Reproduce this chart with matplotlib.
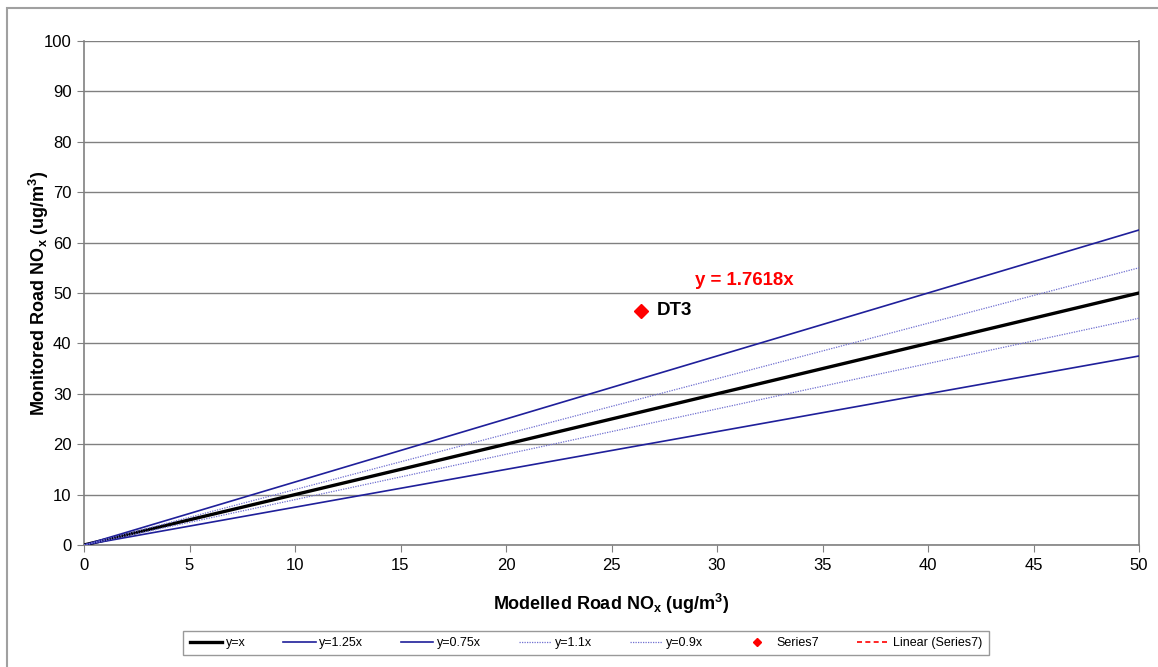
import matplotlib.pyplot as plt
import numpy as np
from matplotlib.lines import Line2D
from matplotlib.patches import Rectangle

plt.rcParams["font.family"] = ["Liberation Sans", "DejaVu Sans"]

# reference lines y = k * x over the modelled range
x_range = [0, 50]
ref_slopes = [1.0, 1.25, 0.75, 1.1, 0.9]
ref_labels = ["y=x", "y=1.25x", "y=0.75x", "y=1.1x", "y=0.9x"]

# monitoring site
site_names = ["DT3"]
site_modelled = [26.4]
site_monitored = [46.5]
trend_slope = 1.7618

GRID = "#808080"
NAVY = "#1f1f9a"

fig = plt.figure(figsize=(11.58, 6.67), dpi=100)
fig.patches.append(Rectangle((7 / 1158, -0.1), 1.2, 1.1 - 8 / 667, transform=fig.transFigure,
                             fill=False, edgecolor="#a0a0a0", linewidth=1.5))
ax = fig.add_axes([84 / 1158, 122 / 667, 1055 / 1158, 504 / 667])

styles = [
    dict(color="black", lw=2.4, ls="-"),
    dict(color=NAVY, lw=1.2, ls="-"),
    dict(color=NAVY, lw=1.2, ls="-"),
    dict(color="#6f6fd0", lw=0.9, ls=(0, (1, 1))),
    dict(color="#6f6fd0", lw=0.9, ls=(0, (1, 1))),
]
handles = []
for k, lab, st in zip(ref_slopes, ref_labels, styles):
    xs = np.array(x_range, dtype=float)
    h, = ax.plot(xs, k * xs, label=lab, zorder=3, **st)
    handles.append(h)

pts, = ax.plot(site_modelled, site_monitored, ls="none", marker="D", ms=7,
               color="#ff0000", label="Series7", zorder=4)
handles.append(pts)
handles.append(Line2D([], [], color="#ff0000", ls=(0, (3, 2)), lw=1.2, label="Linear (Series7)"))

for name, xm, ym in zip(site_names, site_modelled, site_monitored):
    ax.text(xm + 0.75, ym, name, fontsize=13.5, fontweight="bold", va="center", ha="left")
ax.text(31.3, 52.4, f"y = {trend_slope}x", color="#ff0000", fontsize=13.4,
        fontweight="bold", ha="center", va="center")

ax.set_xlim(0, 50)
ax.set_ylim(0, 100)
ax.set_xticks(np.arange(0, 51, 5))
ax.set_yticks(np.arange(0, 101, 10))
ax.yaxis.grid(True, color=GRID, lw=1)
ax.set_axisbelow(True)
ax.spines["top"].set_visible(False)
for s in ["left", "bottom", "right"]:
    ax.spines[s].set_color(GRID)
    ax.spines[s].set_linewidth(1.2)
ax.tick_params(direction="out", length=5, color=GRID, labelsize=12, pad=4)

ax.set_xlabel("Modelled Road NO$_\\mathregular{x}$ (ug/m$^\\mathregular{3}$)",
              fontsize=13, fontweight="bold", labelpad=14)
ax.set_ylabel("Monitored Road NO$_\\mathregular{x}$ (ug/m$^\\mathregular{3}$)",
              fontsize=13, fontweight="bold", labelpad=-5)

leg = fig.legend(handles=handles, loc="center", bbox_to_anchor=(586 / 1158, 1 - 643 / 667),
                 ncol=7, fontsize=9, frameon=True, fancybox=False, edgecolor="#808080",
                 handlelength=2.6, columnspacing=3.0, borderpad=0.5, handletextpad=0.3,
                 markerscale=0.6)
leg.get_frame().set_linewidth(1)

fig.savefig("out.png", dpi=100)
